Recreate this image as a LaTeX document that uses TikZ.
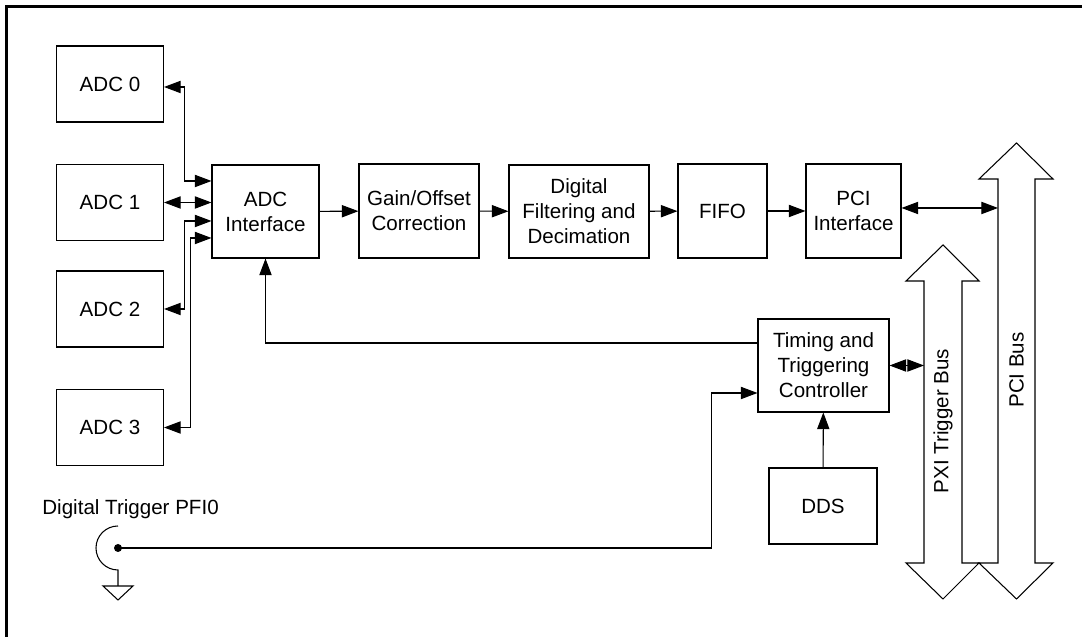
\documentclass[tikz,border=0pt]{standalone}
\usepackage{fontspec}
\setmainfont{Liberation Sans}
\usetikzlibrary{arrows.meta}
\tikzset{
  blk/.style={draw,line width=0.6pt,align=center,inner sep=0pt,minimum width=2.14cm,minimum height=1.52cm},
  bus/.style={draw,line width=0.6pt,fill=white},
}
\begin{document}
\begin{tikzpicture}[line width=0.6pt,>={Triangle[length=9.5pt,width=7pt]},font=\fontsize{11.7}{14.2}\selectfont]
      \useasboundingbox (0,0) rectangle (21.64,12.74);
      \draw[line width=1.3pt] (0.13,0) -- (0.13,12.61) -- (21.64,12.61);
      % converter blocks
      \foreach \i/\y in {0/11.06,1/8.69,2/6.56,3/4.19}
        \node[blk] (adc\i) at (2.2,\y) {ADC \i};
      \node[blk,minimum height=1.86cm] (adcif) at (5.31,8.51) {ADC\\Interface};
      \node[blk,minimum width=2.40cm,minimum height=1.88cm] (gain) at (8.38,8.52) {Gain/Offset\\Correction};
      \node[blk,minimum width=2.80cm,minimum height=1.86cm] (filt) at (11.58,8.51) {Digital\\Filtering and\\Decimation};
      \node[blk,minimum width=1.78cm,minimum height=1.88cm] (fifo) at (14.45,8.52) {FIFO};
      \node[blk,minimum width=1.90cm,minimum height=1.88cm] (pciif) at (17.07,8.52) {PCI\\Interface};
      \node[blk,minimum width=2.62cm,minimum height=1.86cm] (timing) at (16.47,5.43) {Timing and\\Triggering\\Controller};
      \node[blk,minimum width=2.16cm] (dds) at (16.46,2.62) {DDS};
      % buses
      \draw[bus] (18.48,1.48) -- (18.12,1.48) -- (18.86,0.76) -- (19.58,1.48) -- (19.24,1.48)
        -- (19.24,7.12) -- (19.58,7.12) -- (18.86,7.84) -- (18.12,7.12) -- (18.48,7.12) -- cycle;
      \draw[bus] (19.96,1.48) -- (19.58,1.48) -- (20.33,0.76) -- (21.06,1.48) -- (20.70,1.48)
        -- (20.70,9.16) -- (21.06,9.16) -- (20.33,9.88) -- (19.58,9.16) -- (19.96,9.16) -- cycle;
      \coordinate (pxibus) at (18.48,5.43);
      \coordinate (pcibus) at (19.96,8.52);
      \node[rotate=90] (pxilabel) at (18.86,4.32) {PXI Trigger Bus};
      \node[rotate=90] (pcilabel) at (20.33,5.34) {PCI Bus};
      % ADC links
      \draw[<->] ([yshift=-0.06cm]adc0.east) -- ++(0.41,0) |- ([yshift=0.61cm]adcif.west);
      \draw[<->] (adc1.east) -- (adc1.east -| adcif.west);
      \draw[<->] (adc2.east) -- ++(0.41,0) |- ([yshift=-0.19cm]adcif.west);
      \draw[<->] (adc3.east) -- ++(0.53,0) |- ([yshift=-0.53cm]adcif.west);
      % data path
      \draw[->] (adcif) -- (gain);
      \draw[->] (gain) -- (filt);
      \draw[->] (filt) -- (fifo);
      \draw[->] (fifo) -- (pciif);
      \draw[<->] ([yshift=0.06cm]pciif.east) -- ([yshift=0.06cm]pciif.east -| pcibus);
      \draw[<->] (timing.east) -- (timing.east -| pxibus);
      \draw[->] ([yshift=0.45cm]timing.west) -| (adcif.south);
      \draw[->] (dds) -- (timing);
      % trigger input
      \fill (2.36,1.78) circle (0.08) coordinate (pfi);
      \draw (2.36,2.22) arc (90:270:0.44) -- (2.36,1.02) coordinate (gnd);
      \draw ([xshift=-0.3cm]gnd) -- ([xshift=0.3cm]gnd) -- (2.36,0.74) -- cycle;
      \node[anchor=base west] (pfilabel) at (0.72,2.44) {Digital Trigger PFI0};
      \draw[->] (pfi) -| ([xshift=-0.92cm,yshift=-0.55cm]timing.west) -- ([yshift=-0.55cm]timing.west);
    \end{tikzpicture}
\end{document}
